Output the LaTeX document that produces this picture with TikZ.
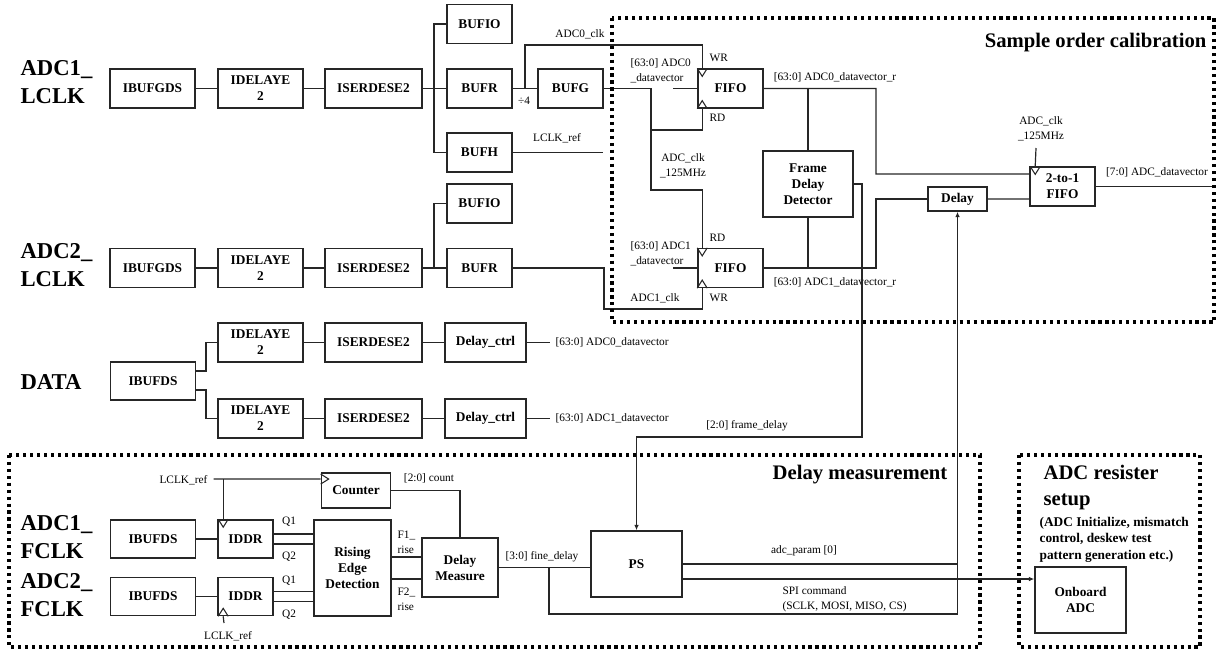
\documentclass[tikz,border=0pt]{standalone}
\usepackage{fontspec}
\setmainfont{Liberation Serif}
\usetikzlibrary{positioning,arrows.meta}
\tikzstyle{sig}=[line width=0.9pt,draw=black!85]
\tikzstyle{blk}=[draw,line width=1.2pt,font=\fontsize{10}{12}\selectfont\bfseries,align=center,inner sep=0pt]
\tikzstyle{wide}=[blk,minimum width=63.75pt,minimum height=29.25pt]
\tikzstyle{ser}=[blk,minimum width=72.75pt,minimum height=29.25pt]
\tikzstyle{buf}=[blk,minimum width=48.75pt,minimum height=29pt]
\tikzstyle{lbl}=[font=\fontsize{8.5}{11}\selectfont,inner sep=0pt,align=left]
\tikzstyle{port}=[font=\fontsize{17}{20.5}\selectfont\bfseries,align=left,anchor=west,inner sep=0pt]
\tikzstyle{ttl}=[font=\fontsize{15.5}{19}\selectfont\bfseries,inner sep=0pt]
\tikzstyle{grp}=[line width=2.4pt,draw=black,dash pattern=on 2.4pt off 2.8pt]
\tikzstyle{clk}=[line width=0.8pt]

\begin{document}
\begin{tikzpicture}[x=0.75pt,y=-0.75pt,sig,>={Latex[length=4pt,width=3.5pt]}]
\useasboundingbox (0,0) rectangle (1216,650);

% input names
\node[port] (p1) at (20,82) {ADC1\_\\LCLK};
\node[port] (p2) at (20,265) {ADC2\_\\LCLK};
\node[port] (p3) at (20,382) {DATA};
\node[port] (p4) at (20,537) {ADC1\_\\FCLK};
\node[port] (p5) at (20,595) {ADC2\_\\FCLK};

% clock chains
\foreach \r/\y in {1/88.5, 2/268} {
  \node[wide] (ib\r) at (152.5,\y) {IBUFGDS};
  \node[wide] (id\r) at (260.5,\y) {IDELAYE\\2};
  \node[ser] (is\r) at (373.5,\y) {ISERDESE2};
  \node[buf] (bufr\r) at (479.5,\y) {BUFR};
  \draw (ib\r) -- (id\r) -- (is\r) -- (bufr\r);
}
\node[buf] (bufio1) at (479.5,24) {BUFIO};
\node[buf] (bufh) at (479.5,152.5) {BUFH};
\node[buf] (bufio2) at (479.5,203.5) {BUFIO};
\node[buf] (bufg) at (570.5,88.5) {BUFG};
\node[buf] (fifo1) at (730.5,88.5) {FIFO};
\node[buf] (fifo2) at (730.5,268) {FIFO};
\node[blk,minimum width=67.5pt,minimum height=49.5pt] (fdd) at (808,184) {Frame\\Delay\\Detector};
\node[blk,minimum width=44.25pt,minimum height=18pt] (dly) at (957.5,199) {Delay};
\node[buf] (mux) at (1062.5,186.5) {2-to-1\\FIFO};

\coordinate (br1) at (434,88.5);
\coordinate (br2) at (434,268);
\draw (bufio1.west) -| (br1) |- (bufh.west);
\draw (bufio2.west) -| (br2);
\draw (bufr1) -- (bufg);

% clock pins
\coordinate (f1wr) at ([xshift=3.75pt]fifo1.north west);
\coordinate (f1rd) at ([xshift=3.75pt]fifo1.south west);
\coordinate (f2rd) at ([xshift=3.75pt]fifo2.north west);
\coordinate (f2wr) at ([xshift=3.75pt]fifo2.south west);
\coordinate (mclk) at ([xshift=4.5pt]mux.north west);

\coordinate (dv) at (525,88.5);
\coordinate (c0) at (525,45);
\draw (dv) -- (c0) -| (f1wr);
\node[lbl] at (524,101) {÷4};
\node[lbl] at (580,34) {ADC0\_clk};

\coordinate (g1) at (651,130);
\coordinate (g2) at (651,190);
\draw (bufg.east) -| (g2) -| (f2rd);
\draw (g1) -| (f1rd);
\node[lbl,align=center] at (683,166) {ADC\_clk\\\_125MHz};

\coordinate (lref) at (603,152.5);
\draw (bufh.east) -- (lref);
\node[lbl] at (557,138) {LCLK\_ref};

\coordinate (a1) at (604,309);
\draw (bufr2.east) -| (a1) -| (f2wr);
\node[lbl] at (655,298) {ADC1\_clk};

\coordinate (d0) at (673,88.5);
\coordinate (d1) at (673,268);
\draw (d0) -- (fifo1.west);
\draw (d1) -- (fifo2.west);
\node[lbl,anchor=west] at (630,70.5) {[63:0] ADC0\\\_datavector};
\node[lbl,anchor=west] at (630,253.5) {[63:0] ADC1\\\_datavector};
\node[lbl,anchor=west] at (709,58) {WR};
\node[lbl,anchor=west] at (709,118) {RD};
\node[lbl,anchor=west] at (709,238) {RD};
\node[lbl,anchor=west] at (709,298) {WR};

% frame alignment
\coordinate (r0) at (876,174);
\coordinate (r1) at (876,199);
\draw (fifo1.east) -| (r0) -- ([yshift=9.4pt]mux.west);
\draw (fifo2.east) -| (r1) -- (dly.west);
\draw (dly.east) -- ([yshift=-9.4pt]mux.west);
\draw (fdd.north) -- (fdd.north |- fifo1.east);
\draw (fdd.south) -- (fdd.south |- fifo2.east);
\node[lbl] at (835,77) {[63:0] ADC0\_datavector\_r};
\node[lbl] at (835,282) {[63:0] ADC1\_datavector\_r};

\coordinate (m0) at (1036,148);
\draw (m0) -- (mclk);
\node[lbl,align=center] at (1041,129) {ADC\_clk\\\_125MHz};
\coordinate (out) at (1214,186.5);
\draw (mux.east) -- (out);
\node[lbl] at (1157,172) {[7:0] ADC\_datavector};

\draw[grp] (612,18) rectangle (1214,322);
\node[ttl,anchor=east] at (1207,43) {Sample order calibration};

% data lanes
\node[wide,minimum height=28.5pt] (ibd) at (153,381) {IBUFDS};
\foreach \r/\y/\v in {1/342.5/0, 2/418.5/1} {
  \node[wide] (idd\r) at (260.5,\y) {IDELAYE\\2};
  \node[ser] (isd\r) at (373.5,\y) {ISERDESE2};
  \node[blk,minimum width=60.75pt,minimum height=29.25pt] (dc\r) at (485.5,\y) {Delay\_ctrl};
  \coordinate (do\r) at (550,\y);
  \draw (idd\r) -- (isd\r) -- (dc\r) -- (do\r);
  \node[lbl,anchor=west] at (555,\y) {[63:0] ADC\v\_datavector};
}
\coordinate (ds1) at (206,371);
\coordinate (ds2) at (206,390);
\draw (ibd.east |- ds1) -- (ds1) |- (idd1.west);
\draw (ibd.east |- ds2) -- (ds2) |- (idd2.west);

% delay measurement
\foreach \r/\y in {1/539, 2/596.5} {
  \node[wide,minimum height=28.5pt] (ibf\r) at (153,\y) {IBUFDS};
  \node[blk,minimum width=41.25pt,minimum height=28.5pt] (iddr\r) at (245.5,\y) {IDDR};
  \draw (ibf\r) -- (iddr\r);
}
\node[blk,minimum width=51.75pt,minimum height=26.25pt] (cnt) at (356,490.5) {Counter};
\node[blk,minimum width=57.75pt,minimum height=72pt] (red) at (352.5,568) {Rising\\Edge\\Detection};
\node[blk,minimum width=57pt,minimum height=44.25pt] (dm) at (460,567.5) {Delay\\Measure};
\node[blk,minimum width=68.25pt,minimum height=49.5pt] (ps) at (636.5,564) {PS};
\node[blk,minimum width=68.25pt,minimum height=49.5pt] (oadc) at (1080.5,600) {Onboard\\ADC};

\foreach \r in {1,2} {
  \draw ([yshift=3.75pt]iddr\r.east) -- ([yshift=3.75pt]iddr\r.east -| red.west);
  \draw ([yshift=-3.75pt]iddr\r.east) -- ([yshift=-3.75pt]iddr\r.east -| red.west);
}
\node[lbl] at (289,522) {Q1};
\node[lbl] at (289,557) {Q2};
\node[lbl] at (289,581) {Q1};
\node[lbl] at (289,615) {Q2};

\coordinate (i1clk) at ([xshift=4.5pt]iddr1.north west);
\coordinate (i2clk) at ([xshift=4.5pt]iddr2.south west);
\coordinate (cclk) at ([yshift=8.6pt]cnt.west);
\coordinate (lr0) at (213.5,479);
\coordinate (lr1) at (224,623);
\draw (lr0) -- (cclk);
\draw (i1clk |- lr0) -- (i1clk);
\draw (lr1) -- (i2clk);
\node[lbl,anchor=east] at (208,480) {LCLK\_ref};
\node[lbl] at (228,636) {LCLK\_ref};

\draw (cnt.east) -| (dm.north);
\node[lbl] at (429,478) {[2:0] count};
\draw ([yshift=8.25pt]red.east) -- ([yshift=8.25pt]red.east -| dm.west);
\draw ([yshift=-8.25pt]red.east) -- ([yshift=-8.25pt]red.east -| dm.west);
\node[lbl,anchor=west] at (397,542) {F1\_\\rise};
\node[lbl,anchor=west] at (397,599.5) {F2\_\\rise};

\draw (dm.east) -- (dm.east -| ps.west);
\coordinate (fb) at (549,567.5);
\coordinate (sb) at (957.5,614);
\draw[->] (fb) |- (sb) -- (dly.south);
\node[lbl] at (542,557) {[3:0] fine\_delay};
\draw (ps.east) -- (ps.east -| sb);
\node[lbl] at (804,551) {adc\_param [0]};
\draw[->] ([yshift=-11.25pt]ps.east) -- ([yshift=15.75pt]oadc.west);
\node[lbl,anchor=west] at (782,599) {SPI command\\(SCLK, MOSI, MISO, CS)};

\coordinate (fd) at (862,437);
\draw[->] (fdd.east) -| (fd) -| (ps.north);
\node[lbl] at (747,426) {[2:0] frame\_delay};

% clock triangles
\foreach \p/\s in {f1wr/-6pt, f1rd/6pt, f2rd/-6pt, f2wr/6pt, mclk/-6pt, i1clk/-6pt, i2clk/6pt}
  \draw[clk] ([xshift=-3.75pt]\p) -- ([yshift=\s]\p) -- ([xshift=3.75pt]\p);
\draw[clk] ([yshift=3.75pt]cclk) -- ([xshift=6pt]cclk) -- ([yshift=-3.75pt]cclk);

\draw[grp] (9,455) rectangle (980,647);
\draw[grp] (1019,455) rectangle (1200,647);
\node[ttl] at (860,475) {Delay measurement};
\node[ttl,anchor=west,align=left] at (1043,487.5) {ADC resister\\setup};
\node[font=\fontsize{10}{12.4}\selectfont\bfseries,anchor=west,align=left,inner sep=0pt] at (1039,539.5) {(ADC Initialize, mismatch\\control, deskew test\\pattern generation etc.)};
\end{tikzpicture}
\end{document}
